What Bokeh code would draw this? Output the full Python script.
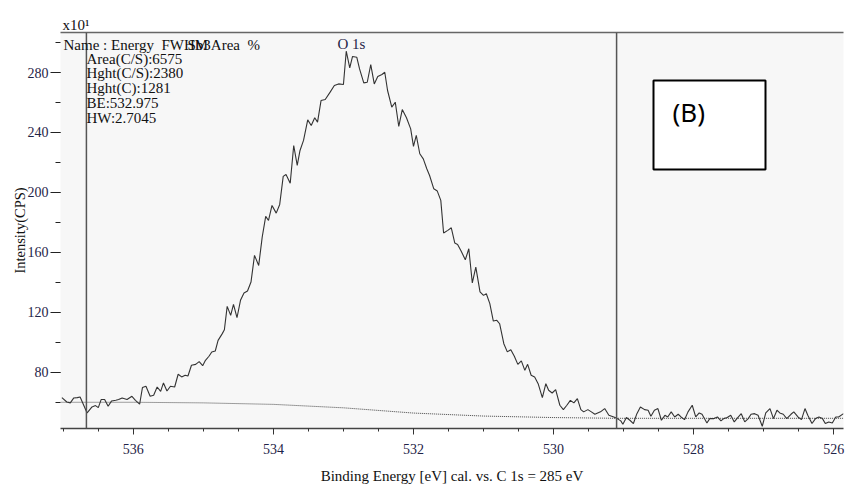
from bokeh.plotting import figure
from bokeh.models import (Range1d, Span, Label, BoxAnnotation, LinearAxis,
                          SingleIntervalTicker, FixedTicker, Title)
from bokeh.embed import file_html
from bokeh.resources import INLINE

# ---------------- data ----------------
binding_energy = [
    537.02, 536.95, 536.90, 536.85, 536.80, 536.76, 536.66, 536.59, 536.54, 536.50,
    536.46, 536.41, 536.36, 536.31, 536.25, 536.21, 536.16, 536.09, 536.02, 535.97,
    535.91, 535.87, 535.82, 535.76, 535.71, 535.66, 535.61, 535.57, 535.52, 535.47,
    535.41, 535.36, 535.31, 535.26, 535.22, 535.17, 535.11, 535.06, 535.01, 534.97,
    534.92, 534.88, 534.83, 534.79, 534.73, 534.70, 534.66, 534.61, 534.57, 534.52,
    534.47, 534.42, 534.37, 534.32, 534.27, 534.21, 534.16, 534.11, 534.07, 534.02,
    533.96, 533.91, 533.86, 533.82, 533.76, 533.71, 533.66, 533.62, 533.57, 533.51,
    533.46, 533.41, 533.37, 533.32, 533.26, 533.19, 533.13, 533.07, 533.00, 532.96,
    532.91, 532.87, 532.81, 532.77, 532.71, 532.66, 532.61, 532.56, 532.51, 532.45,
    532.41, 532.37, 532.31, 532.26, 532.21, 532.16, 532.10, 532.04, 532.00, 531.96,
    531.91, 531.86, 531.81, 531.77, 531.71, 531.66, 531.61, 531.57, 531.51, 531.46,
    531.41, 531.37, 531.32, 531.26, 531.21, 531.16, 531.11, 531.05, 531.00, 530.96,
    530.91, 530.86, 530.81, 530.77, 530.71, 530.66, 530.61, 530.56, 530.51, 530.46,
    530.41, 530.37, 530.32, 530.27, 530.22, 530.16, 530.11, 530.07, 530.02, 529.97,
    529.91, 529.86, 529.81, 529.76, 529.71, 529.66, 529.61, 529.57, 529.51, 529.46,
    529.41, 529.33, 529.27, 529.21, 529.14, 529.09, 529.04, 529.01, 528.96, 528.91,
    528.86, 528.81, 528.76, 528.70, 528.65, 528.61, 528.56, 528.51, 528.46, 528.41,
    528.37, 528.32, 528.27, 528.22, 528.18, 528.13, 528.08, 528.02, 527.97, 527.92,
    527.88, 527.81, 527.77, 527.71, 527.66, 527.61, 527.57, 527.52, 527.47, 527.42,
    527.37, 527.32, 527.27, 527.22, 527.18, 527.13, 527.08, 527.02, 526.97, 526.91,
    526.86, 526.81, 526.77, 526.72, 526.67, 526.61, 526.57, 526.51, 526.46, 526.41,
    526.37, 526.31, 526.26, 526.21, 526.16, 526.12, 526.07, 526.02, 525.97, 525.93,
    525.86,
]
intensity = [
    63.1, 60.2, 59.6, 62.9, 63.1, 63.5, 52.9, 56.9, 57.8, 56.4,
    61.8, 61.8, 57.3, 60.9, 61.3, 61.8, 62.9, 61.8, 64.0, 61.3,
    58.7, 69.8, 70.7, 64.0, 64.7, 70.2, 67.3, 72.9, 67.5, 70.7,
    70.2, 78.7, 76.9, 78.0, 77.5, 84.7, 85.3, 87.1, 84.4, 88.0,
    90.7, 93.5, 94.2, 101.3, 105.8, 108.4, 124.0, 118.0, 125.3, 116.4,
    128.0, 132.9, 134.2, 140.2, 158.0, 151.3, 170.2, 184.0, 181.3, 191.3,
    186.2, 192.0, 210.7, 212.0, 206.2, 231.3, 218.0, 228.0, 234.7, 248.4,
    244.7, 249.8, 246.9, 261.3, 262.0, 266.9, 271.3, 272.4, 272.0, 294.2,
    283.1, 290.7, 290.2, 282.4, 273.1, 273.5, 285.3, 272.4, 277.3, 278.7,
    280.2, 268.0, 256.9, 260.2, 244.0, 255.3, 249.8, 242.4, 230.7, 238.0,
    225.8, 222.4, 215.8, 211.3, 202.4, 200.9, 194.7, 172.9, 174.7, 176.4,
    166.2, 165.3, 160.9, 155.1, 162.4, 139.6, 150.2, 133.6, 131.3, 132.4,
    125.8, 114.2, 114.7, 112.4, 99.1, 93.6, 95.1, 90.7, 85.3, 87.6,
    81.3, 85.3, 78.0, 76.9, 72.4, 63.1, 72.4, 68.0, 66.2, 68.4,
    58.0, 55.1, 58.0, 61.3, 59.6, 62.4, 55.1, 53.6, 55.1, 53.6,
    52.0, 53.6, 55.8, 51.3, 50.2, 49.1, 47.6, 45.3, 49.8, 48.0,
    45.8, 52.4, 56.9, 55.1, 54.7, 50.7, 54.7, 55.8, 48.0, 51.3,
    50.2, 53.6, 50.2, 52.0, 50.2, 48.4, 53.6, 58.0, 50.2, 52.9,
    52.0, 46.2, 49.1, 49.1, 50.2, 47.6, 49.1, 49.8, 51.3, 46.9,
    49.8, 52.4, 46.9, 49.1, 52.0, 52.4, 51.3, 44.0, 52.9, 55.8,
    49.1, 54.7, 52.9, 52.0, 49.1, 52.0, 53.6, 50.2, 48.4, 55.8,
    51.3, 45.8, 49.1, 50.2, 49.1, 45.8, 46.9, 46.2, 50.2, 50.2,
    52.4,
]
background_energy = [537.04, 536.0, 535.0, 534.0, 533.0, 532.0, 531.0, 530.0, 529.1, 525.86]
background_intensity = [60.0, 60.0, 59.6, 58.6, 56.3, 52.8, 50.8, 49.8, 49.3, 49.3]
region_limits = [536.67, 529.1]
x_major_interval = 2
y_major_interval = 40

header_text = "Name : Energy\u00a0\u00a0FWHM"
header_overlap = "Sb3Area\u00a0\u00a0%"
info_lines = ["Area(C/S):6575", "Hght(C/S):2380", "Hght(C):1281", "BE:532.975", "HW:2.7045"]

# ---------------- figure ----------------
SERIF = "Liberation Serif"
NAVY = "#1f2448"
FRAME_L, FRAME_B = 60, 428

p = figure(width=846, height=487, output_backend="svg", toolbar_location=None,
           x_range=Range1d(537.04, 525.86), y_range=Range1d(42.5, 306.7),
           min_border_left=60, min_border_right=3, min_border_top=32, min_border_bottom=59,
           background_fill_color="#f7f7f7", border_fill_color="white",
           outline_line_color=None)
p.grid.visible = False

xa = p.below[0]
xa.ticker = SingleIntervalTicker(interval=x_major_interval, num_minor_ticks=4)
xa.axis_line_color = "#444444"
xa.axis_line_width = 1.5
xa.major_tick_out = 6
xa.major_tick_in = 0
xa.minor_tick_out = 3
xa.minor_tick_in = 0
xa.major_tick_line_color = "#333333"
xa.minor_tick_line_color = "#333333"
xa.major_label_standoff = 9
xa.major_label_text_font = SERIF
xa.major_label_text_font_size = "14px"
xa.major_label_text_color = NAVY
xa.axis_label = "Binding Energy [eV] cal. vs. C 1s = 285 eV"
xa.axis_label_text_font = SERIF
xa.axis_label_text_font_size = "15px"
xa.axis_label_text_font_style = "normal"
xa.axis_label_text_color = "#111111"
xa.axis_label_standoff = 11

ya = p.left[0]
ya.ticker = SingleIntervalTicker(interval=y_major_interval, num_minor_ticks=2)
ya.axis_line_color = None
ya.major_tick_out = 10
ya.major_tick_in = 0
ya.minor_tick_out = 5
ya.minor_tick_in = 0
ya.major_tick_line_color = "#222222"
ya.minor_tick_line_color = "#222222"
ya.major_label_standoff = 2
ya.major_label_text_font = SERIF
ya.major_label_text_font_size = "14px"
ya.major_label_text_color = NAVY
ya.axis_label = "Intensity(CPS)"
ya.axis_label_text_font = SERIF
ya.axis_label_text_font_size = "14.5px"
ya.axis_label_text_font_style = "normal"
ya.axis_label_text_color = "#111111"
ya.axis_label_standoff = -3

top_axis = LinearAxis(ticker=FixedTicker(ticks=[]), major_tick_out=0, major_tick_in=0,
                      minor_tick_out=0, minor_tick_in=0, major_label_text_font_size="0px",
                      axis_line_color="#666666", axis_line_width=1.5)
p.add_layout(top_axis, "above")
p.add_layout(Title(text="x10\u00b9", align="left", offset=2, standoff=0,
                   text_font=SERIF, text_font_size="15px", text_font_style="normal",
                   text_color="#111111"), "above")

# data lines
p.line(background_energy, background_intensity, line_color="#444444", line_dash="1 1", line_width=1)
p.line(binding_energy, intensity, line_color="#333333", line_width=1.1)

for loc in region_limits:
    p.add_layout(Span(location=loc, dimension="height", line_color="#555555", line_width=1.5))


def label(text, px, py, size="13px", font=SERIF, color="#111111", align="left"):
    p.add_layout(Label(x=px - FRAME_L, y=FRAME_B - py, x_units="screen", y_units="screen",
                       text=text, text_font=font, text_font_size=size, text_color=color,
                       text_baseline="middle", text_align=align))


label(header_text, 63, 44, size="15px")
label(header_overlap, 187, 44, size="15px")
for i, t in enumerate(info_lines):
    label(t, 86, 58 + i * 14.8, size="15px")
label("O 1s", 337, 43, size="15px", color=NAVY)

p.add_layout(BoxAnnotation(left=653 - FRAME_L, right=765 - FRAME_L,
                           top=FRAME_B - 80, bottom=FRAME_B - 169,
                           left_units="screen", right_units="screen",
                           top_units="screen", bottom_units="screen",
                           fill_color="white", fill_alpha=1.0,
                           line_color="black", line_alpha=1.0, line_width=2))
label("(B)", 672, 111, size="26px", font="Noto Sans", color="black")

open("out.html", "w").write(file_html(p, INLINE))
